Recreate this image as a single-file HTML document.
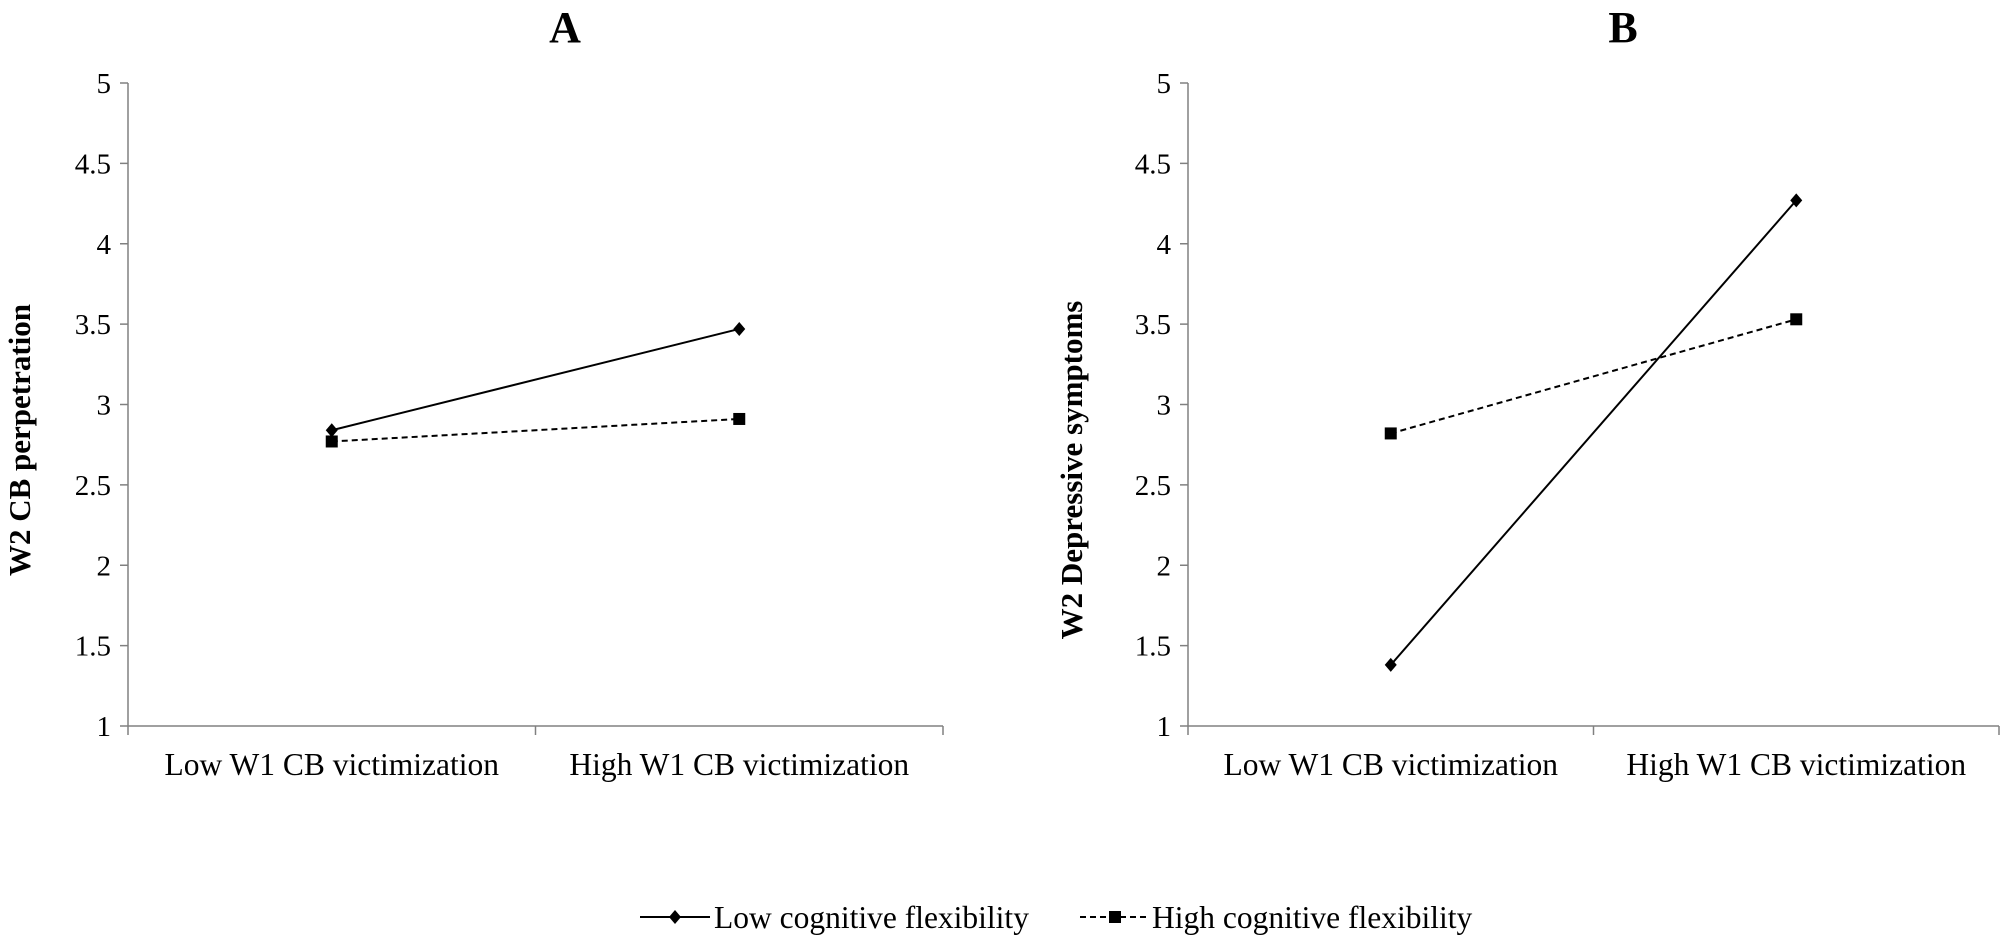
<!DOCTYPE html>
<html><head><meta charset="utf-8"><style>
html,body{margin:0;padding:0;background:#fff;}
svg{display:block;font-family:"Liberation Serif",serif;}
</style></head><body>
<svg id="chart" width="2007" height="942" viewBox="0 0 2007 942"></svg>
<script>
const categories = ["Low W1 CB victimization", "High W1 CB victimization"];
const yTicks = [1, 1.5, 2, 2.5, 3, 3.5, 4, 4.5, 5];
const seriesNames = ["Low cognitive flexibility", "High cognitive flexibility"];
const panelALow = [2.84, 3.47];
const panelAHigh = [2.77, 2.91];
const panelBLow = [1.38, 4.27];
const panelBHigh = [2.82, 3.53];

const NS = "http://www.w3.org/2000/svg";
const svg = document.getElementById("chart");
function mk(tag, attrs, parent) {
  const e = document.createElementNS(NS, tag);
  for (const k in attrs) e.setAttribute(k, attrs[k]);
  (parent || svg).appendChild(e);
  return e;
}
function marker(g, type, x, y) {
  let m;
  if (type === "diamond") m = mk("polygon", {points: `${x},${y-7} ${x+6},${y} ${x},${y+7} ${x-6},${y}`, fill: "#000"}, g);
  else m = mk("rect", {x: x-6, y: y-6, width: 12, height: 12, fill: "#000"}, g);
  return m;
}
function panel(opts) {
  const g = mk("g", {});
  
  
  const x0 = opts.x0, x1 = opts.x1, yTop = 83, yBot = 726;
  const yS = v => yBot - (v - 1) / 4 * (yBot - yTop);
  const band = (x1 - x0) / categories.length;
  const xS = i => x0 + band * (i + 0.5);
  const yAxis = mk("line", {x1: x0, y1: yTop, x2: x0, y2: yBot, stroke: "#808080", "stroke-width": 1.5}, g);
  
  
  const xAxis = mk("line", {x1: x0, y1: yBot, x2: x1, y2: yBot, stroke: "#808080", "stroke-width": 1.5}, g);
  
  
  yTicks.forEach(v => {
    mk("line", {x1: x0 - 8, y1: yS(v), x2: x0, y2: yS(v), stroke: "#808080", "stroke-width": 1.5}, g);
    const t = mk("text", {x: x0 - 17, y: yS(v) + 10, "text-anchor": "end", "font-size": 29, fill: "#000"}, g);
    t.textContent = String(v);
    
    
  });
  for (let i = 0; i <= categories.length; i++) {
    const x = x0 + band * i;
    mk("line", {x1: x, y1: yBot, x2: x, y2: yBot + 9, stroke: "#808080", "stroke-width": 1.5}, g);
  }
  categories.forEach((c, i) => {
    const t = mk("text", {x: xS(i), y: 775, "text-anchor": "middle", "font-size": 31.5, fill: "#000"}, g);
    t.textContent = c;
    
    
  });
  const ttl = mk("text", {x: opts.titleX, y: 42, "text-anchor": "middle", "font-size": 44, "font-weight": "bold", fill: "#000"}, g);
  ttl.textContent = opts.title;
  
  
  const yt = mk("text", {x: 0, y: 0, "text-anchor": "middle", "font-size": 31, "font-weight": "bold", fill: "#000", transform: `translate(${opts.ytX},${opts.ytY}) rotate(-90)`}, g);
  yt.textContent = opts.yTitle;
  
  
  [[opts.low, "diamond", null], [opts.high, "square", "6,4"]].forEach(([vals, type, dash], si) => {
    const pts = vals.map((v, i) => `${xS(i)},${yS(v)}`).join(" ");
    const attrs = {points: pts, fill: "none", stroke: "#000", "stroke-width": 2};
    if (dash) attrs["stroke-dasharray"] = dash;
    const l = mk("polyline", attrs, g);
    
    
    vals.forEach((v, i) => {
      const m = marker(g, type, xS(i), yS(v));
      
      
    });
  });
}
panel({name: "panel-a", x0: 128, x1: 943, title: "A", titleX: 565, yTitle: "W2 CB perpetration", ytX: 30, ytY: 440, low: panelALow, high: panelAHigh});
panel({name: "panel-b", x0: 1188, x1: 1999, title: "B", titleX: 1623, yTitle: "W2 Depressive symptoms", ytX: 1082, ytY: 470, low: panelBLow, high: panelBHigh});

const lg = mk("g", {});


const e1 = mk("g", {}, lg);


mk("line", {x1: 640, y1: 917, x2: 710, y2: 917, stroke: "#000", "stroke-width": 2}, e1);
marker(e1, "diamond", 675, 917);
const t1 = mk("text", {x: 714, y: 928, "font-size": 31.5, fill: "#000"}, e1);
t1.textContent = seriesNames[0];
const e2 = mk("g", {}, lg);


mk("line", {x1: 1080, y1: 917, x2: 1146, y2: 917, stroke: "#000", "stroke-width": 2, "stroke-dasharray": "6,4"}, e2);
marker(e2, "square", 1115, 917);
const t2 = mk("text", {x: 1152, y: 928, "font-size": 31.5, fill: "#000"}, e2);
t2.textContent = seriesNames[1];
</script>
</body></html>
